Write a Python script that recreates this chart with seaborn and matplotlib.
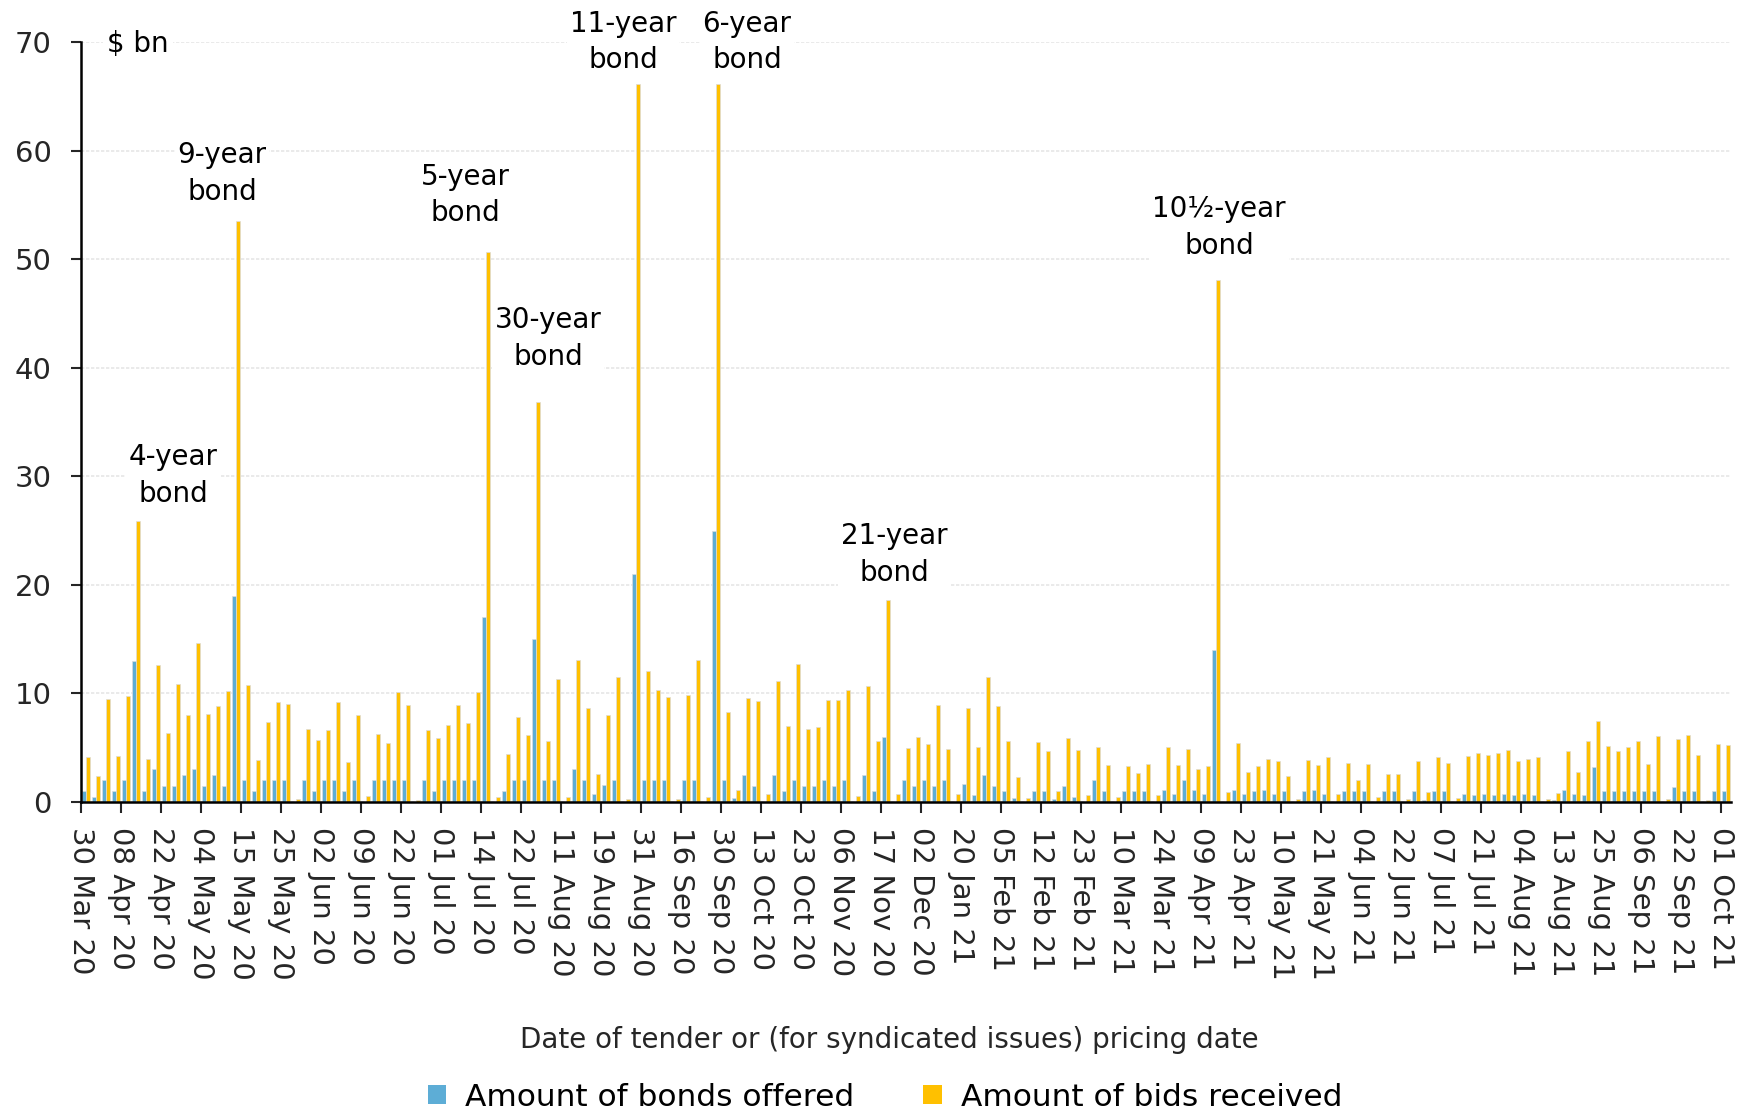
import numpy as np
import pandas as pd
import matplotlib
matplotlib.use('Agg')
import matplotlib.pyplot as plt
from matplotlib.patches import Patch
import seaborn as sns

# ── Data ───────────────────────────────────────────────────────────────────
# one entry per tender / syndication, in date order ($ bn)
offered = [
    1.0, 0.5, 2.0, 1.0, 2.0, 13.0, 1.0, 3.0, 1.5, 1.5, 2.5, 3.0, 1.5, 2.5, 1.5, 19.0,
    2.0, 1.0, 2.0, 2.0, 2.0, 0.0, 2.0, 1.0, 2.0, 2.0, 1.0, 2.0, 0.0, 2.0, 2.0, 2.0,
    2.0, 0.0, 2.0, 1.0, 2.0, 2.0, 2.0, 2.0, 17.0, 0.0, 1.0, 2.0, 2.0, 15.0, 2.0, 2.0,
    0.0, 3.0, 2.0, 0.7, 1.6, 2.0, 0.0, 21.0, 2.0, 2.0, 2.0, 0.0, 2.0, 2.0, 0.0, 25.0,
    2.0, 0.4, 2.5, 1.5, 0.0, 2.5, 1.0, 2.0, 1.5, 1.5, 2.0, 1.5, 2.0, 0.0, 2.5, 1.0,
    6.0, 0.0, 2.0, 1.5, 2.0, 1.5, 2.0, 0.0, 1.7, 0.6, 2.5, 1.5, 1.0, 0.4, 0.0, 1.0,
    1.0, 0.3, 1.5, 0.5, 0.0, 2.0, 1.0, 0.0, 1.0, 1.0, 1.0, 0.0, 1.1, 0.7, 2.0, 1.1,
    0.7, 14.0, 0.0, 1.1, 0.7, 1.0, 1.1, 0.7, 1.0, 0.0, 1.0, 1.1, 0.7, 0.0, 1.0, 1.0,
    1.0, 0.0, 1.0, 1.0, 0.0, 1.0, 0.2, 1.0, 1.0, 0.0, 0.7, 0.6, 0.7, 0.6, 0.7, 0.6,
    0.7, 0.6, 0.0, 0.2, 1.1, 0.7, 0.6, 3.2, 1.0, 1.0, 1.0, 1.0, 1.0, 1.0, 0.0, 1.4,
    1.0, 1.0, 0.0, 1.0, 1.0,
]
bids = [
    4.1, 2.4, 9.5, 4.2, 9.75, 25.9, 4.0, 12.6, 6.4, 10.9, 8.0, 14.6, 8.1, 8.8, 10.25, 53.5,
    10.8, 3.9, 7.4, 9.2, 9.0, 0.3, 6.75, 5.7, 6.6, 9.2, 3.65, 8.05, 0.55, 6.3, 5.4, 10.15,
    8.9, 0.2, 6.6, 5.85, 7.1, 8.95, 7.3, 10.15, 50.7, 0.46, 4.46, 7.8, 6.2, 36.8, 5.6, 11.3,
    0.46, 13.1, 8.7, 2.6, 8.0, 11.55, 0.3, 66.1, 12.1, 10.3, 9.7, 0.3, 9.85, 13.1, 0.43, 66.1,
    8.27, 1.15, 9.6, 9.3, 0.77, 11.1, 7.0, 12.75, 6.75, 6.9, 9.4, 9.4, 10.3, 0.56, 10.7, 5.6,
    18.6, 0.77, 5.0, 6.0, 5.3, 8.9, 4.9, 0.77, 8.7, 5.1, 11.5, 8.85, 5.6, 2.3, 0.4, 5.5,
    4.7, 1.0, 5.9, 4.8, 0.6, 5.1, 3.4, 0.46, 3.3, 2.7, 3.5, 0.68, 5.05, 3.4, 4.9, 3.0,
    3.3, 48.1, 0.93, 5.4, 2.8, 3.3, 4.0, 3.8, 2.4, 0.28, 3.9, 3.4, 4.1, 0.77, 3.6, 2.0,
    3.5, 0.43, 2.6, 2.55, 0.25, 3.8, 0.93, 4.1, 3.6, 0.37, 4.2, 4.55, 4.3, 4.55, 4.8, 3.8,
    3.95, 4.1, 0.28, 0.87, 4.7, 2.8, 5.6, 7.5, 5.2, 4.7, 5.05, 5.6, 3.5, 6.07, 0.28, 5.8,
    6.16, 4.3, 0.2, 5.3, 5.25,
]

# every fourth tender is labelled
tick_labels = [
    '30 Mar 20', '08 Apr 20', '22 Apr 20', '04 May 20', '15 May 20', '25 May 20',
    '02 Jun 20', '09 Jun 20', '22 Jun 20', '01 Jul 20', '14 Jul 20', '22 Jul 20',
    '11 Aug 20', '19 Aug 20', '31 Aug 20', '16 Sep 20', '30 Sep 20', '13 Oct 20',
    '23 Oct 20', '06 Nov 20', '17 Nov 20', '02 Dec 20', '20 Jan 21', '05 Feb 21',
    '12 Feb 21', '23 Feb 21', '10 Mar 21', '24 Mar 21', '09 Apr 21', '23 Apr 21',
    '10 May 21', '21 May 21', '04 Jun 21', '22 Jun 21', '07 Jul 21', '21 Jul 21',
    '04 Aug 21', '13 Aug 21', '25 Aug 21', '06 Sep 21', '22 Sep 21', '01 Oct 21',
]

# bond annotations: label, tender index, height ($ bn)
notes = ['4-year\nbond', '9-year\nbond', '5-year\nbond', '30-year\nbond',
         '11-year\nbond', '6-year\nbond', '21-year\nbond', '10½-year\nbond']
note_x = [8.7, 13.6, 37.9, 46.2, 53.7, 66.1, 80.8, 113.3]
note_y = [30.1, 57.9, 55.9, 42.7, 70.0, 70.0, 22.8, 52.9]

# ── Style ──────────────────────────────────────────────────────────────────
BLUE = '#5DADD6'
GOLD = '#FFC000'
FS = 19

sns.set_theme(style='white')
plt.rcParams['font.family'] = ['DejaVu Sans']
plt.rcParams['text.color'] = 'black'

n = len(offered)
df = pd.DataFrame({
    'tender': list(range(n)) * 2,
    'value': offered + bids,
    'series': ['Amount of bonds offered'] * n + ['Amount of bids received'] * n,
})

fig = plt.figure(figsize=(17.42, 11.11), dpi=100)
ax = fig.add_axes([81 / 1742, 1 - 802 / 1111, 1650 / 1742, 760 / 1111])

sns.barplot(data=df, x='tender', y='value', hue='series',
            order=list(range(n)),
            hue_order=['Amount of bonds offered', 'Amount of bids received'],
            palette=[BLUE, GOLD], saturation=1, width=0.84,
            edgecolor='#dcdcdc', linewidth=0.5, legend=False, ax=ax)

ax.set_xlim(-0.5, n - 0.5)
ax.set_ylim(0, 70)
ax.set_yticks(range(0, 71, 10))
ax.set_yticklabels([str(v) for v in range(0, 71, 10)], fontsize=FS + 2)
ax.set_xticks(np.arange(0, n, 4) - 0.5)
ax.set_xticklabels(tick_labels, rotation=270, fontsize=FS + 2, va='top', ha='center')
ax.tick_params(axis='y', direction='out', length=7, width=1.5, pad=14, left=True)
ax.tick_params(axis='x', direction='out', length=8, width=1.5, pad=10, bottom=True)
ax.set_xlabel('Date of tender or (for syndicated issues) pricing date', fontsize=FS + 1)
ax.xaxis.set_label_coords(0.49, -0.295)
ax.set_ylabel('')

ax.yaxis.grid(True, color='#e6e6e6', linestyle=(0, (2, 1)), linewidth=1.2)
ax.set_axisbelow(True)
for side in ['top', 'right']:
    ax.spines[side].set_visible(False)
for side in ['left', 'bottom']:
    ax.spines[side].set_color('black')
    ax.spines[side].set_linewidth(1.8)

ax.text(2.1, 69.8, '$ bn', fontsize=FS + 1, ha='left', va='center',
        bbox=dict(facecolor='white', edgecolor='none', pad=3))

for txt, x, y in zip(notes, note_x, note_y):
    ax.text(x, y, txt, fontsize=FS + 1, ha='center', va='center', linespacing=1.4,
            bbox=dict(facecolor='white', edgecolor='none', pad=2))

handles = [Patch(facecolor=BLUE, edgecolor='none'), Patch(facecolor=GOLD, edgecolor='none')]
fig.legend(handles, ['Amount of bonds offered', 'Amount of bids received'],
           loc='center', bbox_to_anchor=(0.508, 1 - 1097 / 1111), ncol=2, frameon=False,
           fontsize=FS + 3.5, handlelength=0.6, handleheight=0.6, handletextpad=0.6,
           columnspacing=2.2)

plt.savefig('out.png', dpi=100)
plt.close()
